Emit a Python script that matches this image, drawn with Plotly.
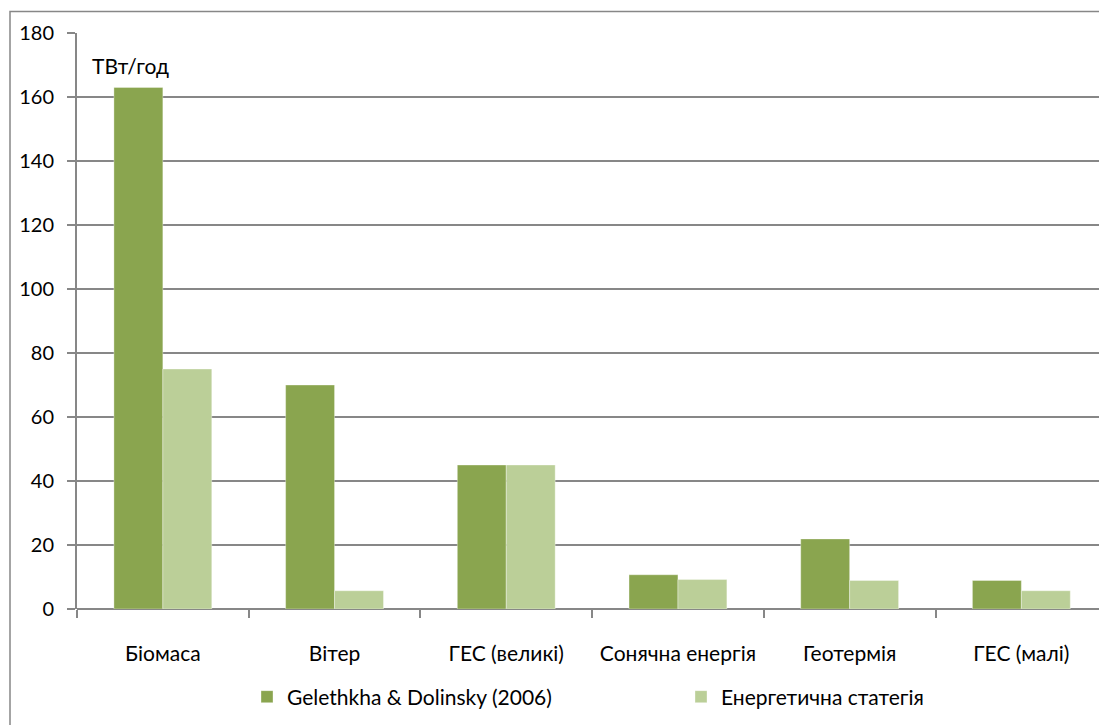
import plotly.graph_objects as go

# Renewable energy potential by source, TWh per year
categories = ["Біомаса", "Вітер", "ГЕС (великі)", "Сонячна енергія", "Геотермія", "ГЕС (малі)"]
gelethkha_dolinsky = [163, 70, 45, 10.7, 21.9, 8.9]
energy_strategy = [75, 5.7, 45, 9.2, 8.9, 5.7]
y_ticks = [0, 20, 40, 60, 80, 100, 120, 140, 160, 180]

FONT = "Lato"
W, H = 1099, 725
ML, MT, MB = 77, 33, 116
plot_w = W - ML
plot_h = H - MT - MB
cat_px = 171.7  # width of one category slot

fig = go.Figure()
fig.add_trace(go.Bar(
    x=categories, y=gelethkha_dolinsky, name="Gelethkha & Dolinsky (2006)",
    marker=dict(color="#8aa54f", line=dict(color="rgba(255,255,255,0.35)", width=1)),
    legend="legend",
))
fig.add_trace(go.Bar(
    x=categories, y=energy_strategy, name="Енергетична статегія",
    marker=dict(color="#bbcf98", line=dict(color="rgba(255,255,255,0.35)", width=1)),
    legend="legend2",
))

def px_x(px):
    return (px - ML) / plot_w

def px_y(py):
    return (H - MB - py) / plot_h

# outer chart frame (runs past the right and bottom edges)
fig.add_shape(type="rect", xref="paper", yref="paper",
              x0=px_x(10), x1=px_x(1200), y0=px_y(900), y1=px_y(11.5),
              line=dict(color="#878787", width=1.5), fillcolor="rgba(0,0,0,0)", layer="below")

fig.add_annotation(text="ТВт/год", xref="paper", yref="paper",
                   x=px_x(90), y=px_y(65), xanchor="left", yanchor="middle",
                   showarrow=False, font=dict(family=FONT, size=21, color="black"))

legend_style = dict(orientation="h", xanchor="left", yanchor="middle",
                    font=dict(family=FONT, size=21, color="black"),
                    bgcolor="rgba(0,0,0,0)", borderwidth=0)

fig.update_layout(
    width=W, height=H,
    margin=dict(l=ML, r=0, t=MT, b=MB, autoexpand=False),
    paper_bgcolor="white", plot_bgcolor="white",
    barmode="group", bargap=0.43, bargroupgap=0,
    font=dict(family=FONT, size=21, color="black"),
    showlegend=True,
    legend=dict(x=px_x(247), y=px_y(697), **legend_style),
    legend2=dict(x=px_x(681), y=px_y(697), **legend_style),
    xaxis=dict(
        type="category", range=[-0.5, -0.5 + plot_w / cat_px],
        showgrid=False, showline=False, zeroline=False,
        ticks="outside", ticklen=8, tickwidth=2, tickcolor="#878787",
        tickson="boundaries", ticklabelstandoff=30,
        tickfont=dict(family=FONT, size=21, color="black"),
    ),
    yaxis=dict(
        range=[0, 180], tickvals=y_ticks,
        showgrid=True, gridcolor="#878787", gridwidth=2,
        showline=True, linecolor="#878787", linewidth=2,
        zeroline=True, zerolinecolor="#878787", zerolinewidth=2,
        ticks="outside", ticklen=8, tickwidth=2, tickcolor="#878787",
        ticklabelstandoff=9,
        tickfont=dict(family=FONT, size=20, color="black"),
    ),
)

fig.write_html("out.html")
